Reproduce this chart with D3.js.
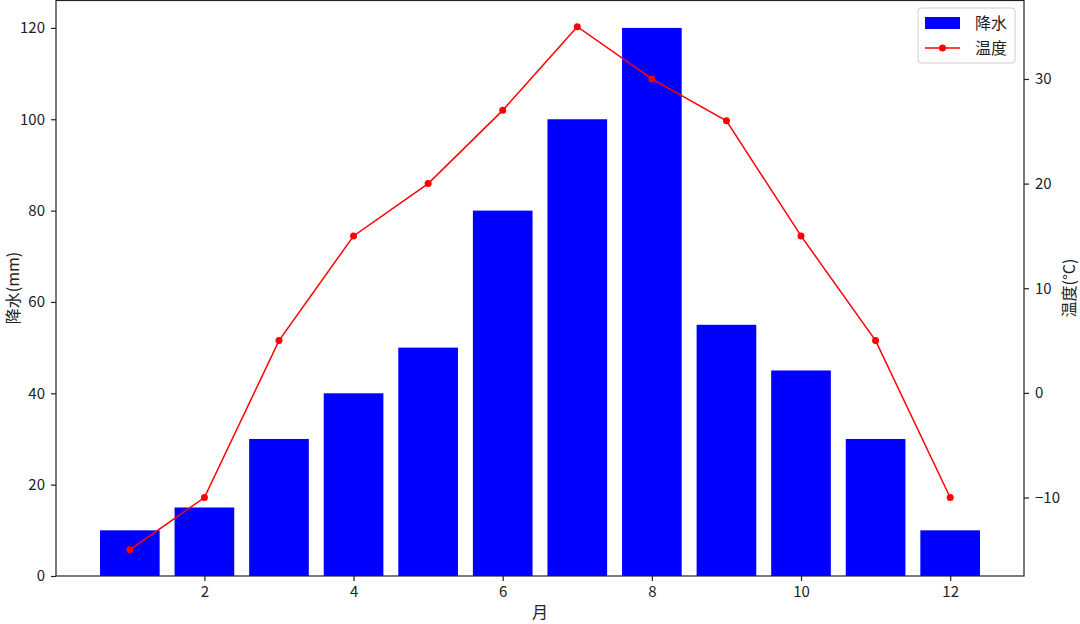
<!DOCTYPE html>
<html>
<head>
<meta charset="utf-8">
<script src="https://cdn.jsdelivr.net/npm/d3@7"></script>
<style>
  body { margin: 0; background: #fff; }
  text { font-family: "Noto Sans CJK SC", "DejaVu Sans", sans-serif; fill: #222; }
</style>
</head>
<body>
<svg id="chart" width="1080" height="624"></svg>
<script>
// data
var months = [1, 2, 3, 4, 5, 6, 7, 8, 9, 10, 11, 12];
var rain = [10, 15, 30, 40, 50, 80, 100, 120, 55, 45, 30, 10];
var temp = [-15, -10, 5, 15, 20, 27, 35, 30, 26, 15, 5, -10];
var xTicks = [2, 4, 6, 8, 10, 12];
var yTicksL = [0, 20, 40, 60, 80, 100, 120];
var yTicksR = [-10, 0, 10, 20, 30];

var mLeft = 56, mRight = 1024, mTop = 0.5, mBottom = 576;

var svg = d3.select('#chart');

var x = d3.scaleLinear().domain([0.01, 12.99]).range([mLeft, mRight]);
var yL = d3.scaleLinear().domain([0, 126]).range([mBottom, mTop]);
var yR = d3.scaleLinear().domain([-17.5, 37.5]).range([mBottom, mTop]);

var barW = x(0.8) - x(0);

svg.append('g').selectAll('rect')
    .data(months)
    .enter()
    .append('rect')
    .attr('x', (d) => x(d) - barW / 2)
    .attr('y', (d, i) => yL(rain[i]))
    .attr('width', barW)
    .attr('height', (d, i) => yL(0) - yL(rain[i]))
    .style('fill', '#0000ff');

var line = d3.line()
    .x((d, i) => x(months[i]))
    .y((d) => yR(d));

svg.append('path')
    .datum(temp)
    .attr('d', line)
    .style('fill', 'none')
    .style('stroke', '#ff0000')
    .style('stroke-width', 1.5);

svg.append('g').selectAll('circle')
    .data(temp)
    .enter()
    .append('circle')
    .attr('cx', (d, i) => x(months[i]))
    .attr('cy', (d) => yR(d))
    .attr('r', 3.5)
    .style('fill', '#ff0000');

// frame
svg.append('rect')
    .attr('x', mLeft).attr('y', mTop)
    .attr('width', mRight - mLeft).attr('height', mBottom - mTop)
    .style('fill', 'none').style('stroke', '#222').style('stroke-width', 1.2);

function styleAxis(g) {
    g.select('.domain').remove();
    g.selectAll('.tick line').style('stroke', '#222').style('stroke-width', 1.2);
    g.selectAll('.tick text').style('font-size', '15px').style('fill', '#222');
}

svg.append('g')
    .attr('transform', 'translate(0,' + mBottom + ')')
    .call(d3.axisBottom(x).tickValues(xTicks).tickSize(5).tickPadding(5))
    .call(styleAxis);

svg.append('g')
    .attr('transform', 'translate(' + mLeft + ',0)')
    .call(d3.axisLeft(yL).tickValues(yTicksL).tickSize(5).tickPadding(6))
    .call(styleAxis);

svg.append('g')
    .attr('transform', 'translate(' + mRight + ',0)')
    .call(d3.axisRight(yR).tickValues(yTicksR).tickSize(5).tickPadding(6)
        .tickFormat((d) => d < 0 ? '\u2212' + Math.abs(d) : d))
    .call(styleAxis);

// axis labels
svg.append('text')
    .attr('x', 540).attr('y', 618)
    .attr('text-anchor', 'middle')
    .style('font-size', '16px')
    .text('月');

svg.append('text')
    .attr('transform', 'translate(19,' + (mBottom / 2) + ') rotate(-90)')
    .attr('text-anchor', 'middle')
    .style('font-size', '16px')
    .text('降水(mm)');

svg.append('text')
    .attr('transform', 'translate(1075,' + (mBottom / 2) + ') rotate(-90)')
    .attr('text-anchor', 'middle')
    .style('font-size', '16px')
    .text('温度(°C)');

// legend
var lg = svg.append('g').attr('transform', 'translate(918,8)');
lg.append('rect')
    .attr('width', 97).attr('height', 55).attr('rx', 3)
    .style('fill', '#fff').style('fill-opacity', 0.8)
    .style('stroke', '#ccc');
lg.append('rect')
    .attr('x', 7).attr('y', 9).attr('width', 35).attr('height', 12)
    .style('fill', '#0000ff');
lg.append('line')
    .attr('x1', 7).attr('x2', 42).attr('y1', 40).attr('y2', 40)
    .style('stroke', '#ff0000').style('stroke-width', 1.5);
lg.append('circle')
    .attr('cx', 24.5).attr('cy', 40).attr('r', 3.5)
    .style('fill', '#ff0000');
lg.append('text').attr('x', 57).attr('y', 21).style('font-size', '16px').text('降水');
lg.append('text').attr('x', 57).attr('y', 46).style('font-size', '16px').text('温度');
</script>
</body>
</html>
